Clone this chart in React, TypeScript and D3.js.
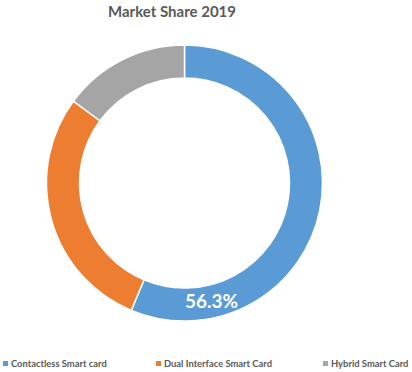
import React, { useRef, useEffect } from "react";
import * as d3 from "d3";

const categories = ["Contactless Smart card", "Dual Interface Smart Card", "Hybrid Smart Card"];
const shares = [56.3, 28.8, 14.9];
const colors = ["#5B9BD5", "#ED7D31", "#A5A5A5"];
const legendX = [3, 156, 323];
const title = "Market Share 2019";

const App = () => {
  const svgRef = useRef<SVGSVGElement>(null);

  useEffect(() => {
    const width = 412;
    const height = 372;
    const cx = 184.5;
    const cy = 183;
    const outerR = 138;
    const innerR = 105;
    const font = "Lato, 'Liberation Sans', sans-serif";

    const svg = d3.select(svgRef.current).attr("width", width).attr("height", height);
    svg.selectAll("*").remove();

    svg.append("rect").attr("width", width).attr("height", height).attr("fill", "#fff");

    svg
      .append("text")
      .attr("x", 172)
      .attr("y", 17)
      .attr("text-anchor", "middle")
      .attr("font-family", font)
      .attr("font-weight", "bold")
      .attr("font-size", 15)
      .attr("fill", "#595959")
      .text(title);

    const pie = d3.pie<number>().sort(null).value((d) => d);
    const arcs = pie(shares);
    const arc = d3.arc<d3.PieArcDatum<number>>().innerRadius(innerR).outerRadius(outerR);

    const g = svg.append("g").attr("transform", `translate(${cx},${cy})`);
    g.selectAll("path")
      .data(arcs)
      .enter()
      .append("path")
      .attr("d", arc)
      .attr("fill", (_, i) => colors[i])
      .attr("stroke", "#fff")
      .attr("stroke-width", 1.5);

    // label on first slice only, near its end
    const a0 = arcs[0];
    const ang = a0.endAngle - 0.62;
    const [lx, ly] = arc.centroid({ ...a0, startAngle: ang, endAngle: ang });
    g.append("text")
      .attr("x", lx)
      .attr("y", ly)
      .attr("dy", "0.35em")
      .attr("text-anchor", "middle")
      .attr("font-family", font)
      .attr("font-weight", "bold")
      .attr("font-size", 19)
      .attr("fill", "#fff")
      .text(`${shares[0]}%`);

    const legend = svg.append("g");
    categories.forEach((c, i) => {
      legend
        .append("rect")
        .attr("x", legendX[i])
        .attr("y", 361)
        .attr("width", 5)
        .attr("height", 5)
        .attr("fill", colors[i]);
      legend
        .append("text")
        .attr("x", legendX[i] + 8)
        .attr("y", 367)
        .attr("font-family", font)
        .attr("font-weight", "bold")
        .attr("font-size", 9.4)
        .attr("fill", "#595959")
        .text(c);
    });
  }, []);

  return (
    <svg ref={svgRef} style={{ display: "block", position: "fixed", left: 0, top: 0 }}></svg>
  );
};

export default App;
